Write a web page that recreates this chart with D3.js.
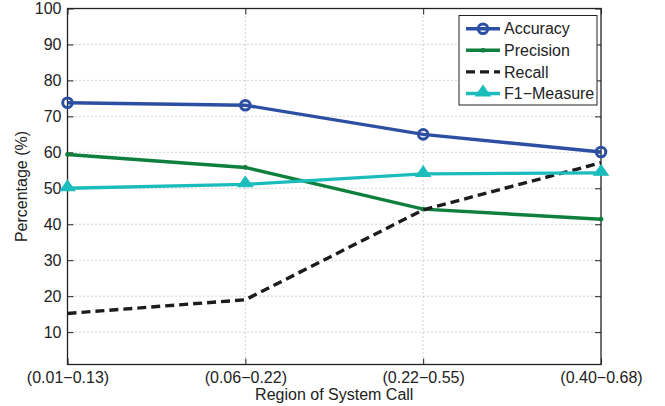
<!DOCTYPE html>
<html>
<head>
<meta charset="utf-8">
<script src="https://cdn.jsdelivr.net/npm/d3@7"></script>
<style>
  body { margin: 0; background: #fff; }
  text { font-family: "Liberation Sans", Arial, sans-serif; fill: #222; }
</style>
</head>
<body>
<figure id="chart" style="margin:0"></figure>
<script>
// values
var regions = ["(0.01\u22120.13)", "(0.06\u22120.22)", "(0.22\u22120.55)", "(0.40\u22120.68)"];
var accuracy = [73.8, 73.1, 65.0, 60.1];
var precision = [59.4, 55.8, 44.2, 41.4];
var recall = [15.2, 19.0, 44.0, 57.1];
var f1 = [50.0, 51.1, 54.0, 54.3];
var yTicks = [10, 20, 30, 40, 50, 60, 70, 80, 90, 100];
var seriesNames = ["Accuracy", "Precision", "Recall", "F1\u2212Measure"];

var width = 665, height = 406;
var margin = { top: 8.5, right: 64, bottom: 41.5, left: 67.5 };
var plotW = width - margin.left - margin.right;
var plotH = height - margin.top - margin.bottom;

var svg = d3.select("#chart")
    .append("svg")
    .attr("width", width)
    .attr("height", height);

var g = svg.append("g")
    .attr("transform", "translate(" + margin.left + "," + margin.top + ")");

var x = d3.scalePoint()
    .domain(regions)
    .range([0, plotW]);

var y = d3.scaleLinear()
    .domain([1, 100])
    .range([plotH, 0]);

// dotted grid
g.selectAll(".hgrid")
    .data(yTicks.filter(function (d) { return d < 100; }))
    .enter().append("line")
    .attr("x1", 0).attr("x2", plotW)
    .attr("y1", function (d) { return y(d); })
    .attr("y2", function (d) { return y(d); })
    .attr("stroke", "#aaa")
    .attr("stroke-width", 1)
    .attr("stroke-dasharray", "1,3");

g.selectAll(".vgrid")
    .data(regions.slice(1, 3))
    .enter().append("line")
    .attr("x1", function (d) { return x(d); })
    .attr("x2", function (d) { return x(d); })
    .attr("y1", 0).attr("y2", plotH)
    .attr("stroke", "#aaa")
    .attr("stroke-width", 1)
    .attr("stroke-dasharray", "1,3");

// axes, ticks pointing inside like matlab
var fontSize = "16px";
var yAxis = g.append("g")
    .call(d3.axisLeft(y).tickValues(yTicks).tickSizeInner(-6).tickSizeOuter(0).tickPadding(6));
var yAxisR = g.append("g")
    .attr("transform", "translate(" + plotW + ",0)")
    .call(d3.axisRight(y).tickValues(yTicks).tickSizeInner(-6).tickSizeOuter(0).tickFormat(""));
var xAxis = g.append("g")
    .attr("transform", "translate(0," + plotH + ")")
    .call(d3.axisBottom(x).tickSizeInner(-6).tickSizeOuter(0).tickPadding(7));
var xAxisT = g.append("g")
    .call(d3.axisTop(x).tickSizeInner(-6).tickSizeOuter(0).tickFormat(""));

[yAxis, yAxisR, xAxis, xAxisT].forEach(function (a) {
    a.select(".domain").remove();
    a.selectAll(".tick line").attr("stroke", "#222").attr("stroke-width", 1);
    a.selectAll("text").style("font-size", fontSize).attr("fill", "#222");
});

g.append("rect")
    .attr("width", plotW).attr("height", plotH)
    .attr("fill", "none")
    .attr("stroke", "#222")
    .attr("stroke-width", 1.3);

// axis titles
svg.append("text")
    .attr("x", margin.left + plotW / 2)
    .attr("y", 400)
    .attr("text-anchor", "middle")
    .style("font-size", fontSize)
    .text("Region of System Call");

svg.append("text")
    .attr("transform", "translate(27," + (margin.top + plotH / 2) + ") rotate(-90)")
    .attr("text-anchor", "middle")
    .style("font-size", fontSize)
    .text("Percentage (%)");

var series = [
    { name: seriesNames[0], values: accuracy, color: "#2d4fa3", dash: null, marker: "circle" },
    { name: seriesNames[1], values: precision, color: "#0f7f3d", dash: null, marker: "dot" },
    { name: seriesNames[2], values: recall, color: "#1c1c1c", dash: "9,5", marker: null },
    { name: seriesNames[3], values: f1, color: "#1bbcbc", dash: null, marker: "triangle" }
];

var line = d3.line()
    .x(function (d, i) { return x(regions[i]); })
    .y(function (d) { return y(d); });

var tri = d3.symbol().type(d3.symbolTriangle).size(70);

function drawMarker(sel, s, cx, cy) {
    if (s.marker === "circle") {
        sel.append("circle").attr("cx", cx).attr("cy", cy).attr("r", 4.8)
            .attr("fill", "none").attr("stroke", s.color).attr("stroke-width", 3);
    } else if (s.marker === "dot") {
        sel.append("circle").attr("cx", cx).attr("cy", cy).attr("r", 2.4)
            .attr("fill", s.color);
    } else if (s.marker === "triangle") {
        sel.append("path").attr("d", tri)
            .attr("transform", "translate(" + cx + "," + (cy - 1) + ") scale(1.15,0.95)")
            .attr("fill", s.color).attr("stroke", s.color).attr("stroke-width", 1);
    }
}

series.forEach(function (s) {
    g.append("path")
        .datum(s.values)
        .attr("d", line)
        .attr("fill", "none")
        .attr("stroke", s.color)
        .attr("stroke-width", 3.4)
        .attr("stroke-dasharray", s.dash);
    s.values.forEach(function (v, i) {
        drawMarker(g, s, x(regions[i]), y(v));
    });
});

// legend
var legend = svg.append("g").attr("transform", "translate(459,15.5)");
legend.append("rect")
    .attr("width", 138).attr("height", 89.5)
    .attr("fill", "#fff")
    .attr("stroke", "#222")
    .attr("stroke-width", 1);

series.forEach(function (s, i) {
    var ly = 13.2 + i * 21.6;
    legend.append("line")
        .attr("x1", 7).attr("x2", 41)
        .attr("y1", ly).attr("y2", ly)
        .attr("stroke", s.color)
        .attr("stroke-width", 3.4)
        .attr("stroke-dasharray", s.dash);
    drawMarker(legend, s, 24, ly);
    legend.append("text")
        .attr("x", 45)
        .attr("y", ly)
        .attr("dy", "0.36em")
        .style("font-size", fontSize)
        .text(s.name);
});
</script>
</body>
</html>
